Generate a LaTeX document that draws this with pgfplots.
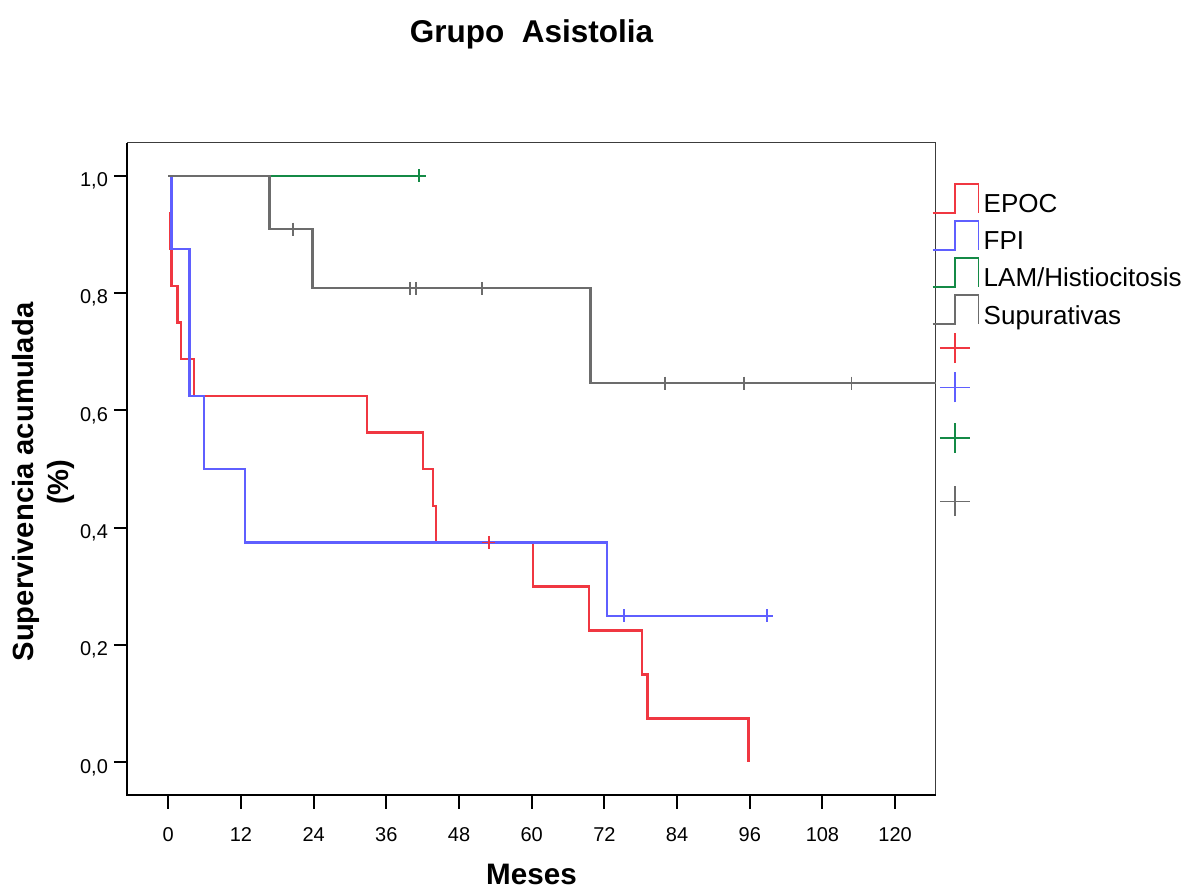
\documentclass[border=0pt]{standalone}
\usepackage{fontspec}
\setmainfont{Liberation Sans}
\usepackage{pgfplots}
\pgfplotsset{compat=1.18}
\definecolor{cRed}{RGB}{240,55,65}
\definecolor{cBlue}{RGB}{95,95,255}
\definecolor{cGreen}{RGB}{20,138,70}
\definecolor{cGray}{RGB}{108,108,108}
\definecolor{cBorder}{RGB}{60,60,60}
\pgfplotsset{
 steplegend/.style={legend image code/.code={%
   \draw[##1] (0pt,-4.75pt) -- (11.35pt,-4.75pt) -- (11.35pt,9.75pt) -- (23pt,9.75pt) -- (23pt,-4.75pt);
   \path (0pt,11pt) (0pt,-6.75pt);}},
 crosslegend/.style 2 args={legend image code/.code={%
   \draw[##1] (3.7pt,0pt) -- (18.7pt,0pt) (11.2pt,-7.5pt) -- (11.2pt,7.5pt);
   \path (0pt,#1) (0pt,-#2);}},
}
\begin{document}
\begin{tikzpicture}
\useasboundingbox (0,0) rectangle (595pt,444.5pt);
\begin{axis}[
  at={(63.65pt,47pt)}, anchor=south west,
  scale only axis, width=404.2pt, height=326.15pt,
  xmin=-6.77, xmax=126.7, ymin=-0.0554, ymax=1.0562,
  clip=false,
  axis line style={draw=cBorder, line width=0.65pt},
  xtick={0,12,...,120}, ytick={0,0.2,0.4,0.6,0.8,1},
  xtick pos=left, ytick pos=left,
  tick align=outside, major tick length=6.75pt,
  tick style={line width=1pt, black},
  minor tick num=0,
  /pgf/number format/assume math mode=true,
  ticklabel style={font=\fontsize{10}{12}\selectfont, inner sep=0pt},
  xticklabel style={anchor=base, yshift=-16.35pt},
  yticklabel style={anchor=base east, xshift=-2.75pt, yshift=-5.35pt, /pgf/number format/.cd, fixed, fixed zerofill, precision=1, use comma},
  title={Grupo\ \ Asistolia},
  title style={at={(axis description cs:0.5,1)}, anchor=base, yshift=44.2pt, font=\bfseries\fontsize{15.75}{18}\selectfont},
  xlabel={Meses},
  xlabel style={at={(axis description cs:0.5,0)}, anchor=base, yshift=-45pt, font=\bfseries\fontsize{14.8}{17}\selectfont},
  ylabel={Supervivencia acumulada\\(\%)},
  ylabel style={at={(axis description cs:-0.1043,0.4798)}, anchor=center, align=center, font=\bfseries\fontsize{14.6}{17.5}\selectfont},
  legend style={at={(axis description cs:0.9946,0.9428)}, anchor=north west, draw=none, fill=none, inner sep=0pt, row sep=0pt, column sep=2.2pt, font=\fontsize{13}{15.6}\selectfont, nodes={inner sep=0pt, text height=9.5pt, text depth=0pt}},
  legend cell align=left,
]
\addlegendimage{steplegend, cRed, line width=0.8pt}
\addlegendentry{EPOC}
\addlegendimage{steplegend, cBlue, line width=0.8pt}
\addlegendentry{FPI}
\addlegendimage{steplegend, cGreen, line width=0.8pt}
\addlegendentry{LAM/Histiocitosis}
\addlegendimage{steplegend, cGray, line width=0.8pt}
\addlegendentry{Supurativas}
\addlegendimage{crosslegend={9.25pt}{9.0pt}, cRed, line width=0.7pt}
\addlegendentry{\mbox{}}
\addlegendimage{crosslegend={10.0pt}{12.0pt}, cBlue, line width=0.7pt}
\addlegendentry{\mbox{}}
\addlegendimage{crosslegend={12.5pt}{15.5pt}, cGreen, line width=0.7pt}
\addlegendentry{\mbox{}}
\addlegendimage{crosslegend={15.5pt}{7.5pt}, cGray, line width=0.7pt}
\addlegendentry{\mbox{}}

% EPOC
\addplot[const plot, cRed, line width=1.15pt, forget plot] coordinates {
 (0.3,0.9375) (0.3,0.875) (0.55,0.8125) (1.5,0.75) (2.1,0.6875) (4.25,0.625)
 (32.85,0.5625) (42.0,0.5) (43.7,0.4375) (44.2,0.375) (60.2,0.3) (69.5,0.225)
 (78.2,0.15) (79.1,0.075) (95.8,0)
};
% FPI
\addplot[const plot, cBlue, line width=1.15pt, forget plot] coordinates {
 (0,1) (0.55,0.875) (3.5,0.625) (5.9,0.5) (12.7,0.375) (72.4,0.25) (99.8,0.25)
};
% LAM/Histiocitosis
\addplot[const plot, cGreen, line width=1.15pt, forget plot] coordinates {
 (0,1) (42.4,1)
};
% Supurativas
\addplot[const plot, cGray, line width=1.15pt, forget plot] coordinates {
 (0,1) (16.7,0.90909) (23.8,0.80808) (69.7,0.64646) (126.7,0.64646)
};
% censored
\addplot[only marks, mark=+, mark size=3.25pt, cRed, mark options={line width=0.9pt}, forget plot] coordinates {(52.9,0.375)};
\addplot[only marks, mark=+, mark size=3.25pt, cBlue, mark options={line width=0.9pt}, forget plot] coordinates {(75.2,0.25) (98.8,0.25)};
\addplot[only marks, mark=+, mark size=3.25pt, cGreen, mark options={line width=0.9pt}, forget plot] coordinates {(41.4,1)};
\addplot[only marks, mark=+, mark size=3.25pt, cGray, mark options={line width=0.9pt}, forget plot] coordinates {
 (20.6,0.90909) (39.9,0.80808) (40.9,0.80808) (51.8,0.80808) (82.0,0.64646) (95.0,0.64646) (112.8,0.64646)};
\draw[black, line width=1pt] (rel axis cs:0,1) -- (rel axis cs:0,0) -- (rel axis cs:1,0);
\end{axis}
\end{tikzpicture}
\end{document}
